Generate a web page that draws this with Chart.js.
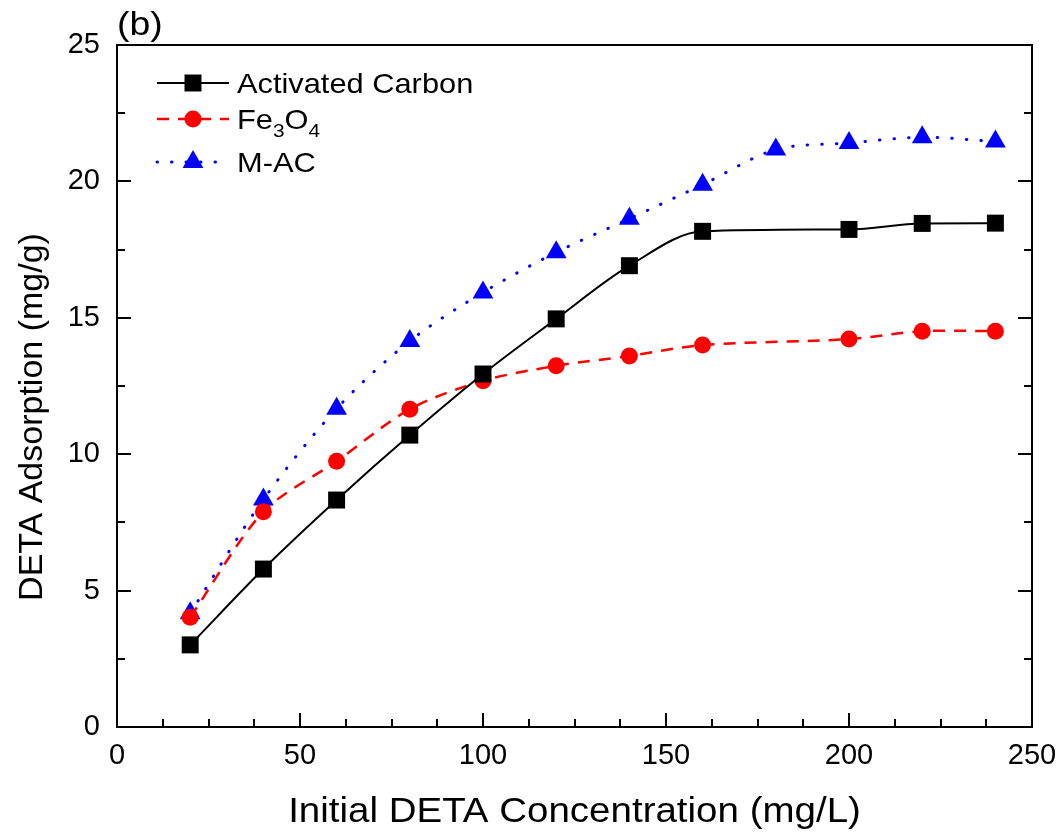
<!DOCTYPE html>
<html>
<head>
<meta charset="utf-8">
<title>DETA adsorption</title>
<script src="https://cdn.jsdelivr.net/npm/chart.js@4.4.1/dist/chart.umd.min.js"></script>
<style>
  html, body { margin: 0; padding: 0; background: #fff; }
  canvas { display: block; }
</style>
</head>
<body>
<canvas id="chart" width="1061" height="835"></canvas>
<script>
// Initial DETA concentration (mg/L) and adsorbed amount (mg/g)
const concAC = [20, 40, 60, 80, 100, 120, 140, 160, 200, 220, 240];
const adsAC = [3.01, 5.79, 8.32, 10.70, 12.94, 14.96, 16.91, 18.17, 18.24, 18.46, 18.47];

const concFe = [20, 40, 60, 80, 100, 120, 140, 160, 200, 220, 240];
const adsFe = [4.02, 7.89, 9.74, 11.65, 12.69, 13.24, 13.60, 14.00, 14.22, 14.51, 14.51];

const concMAC = [20, 40, 60, 80, 100, 120, 140, 160, 180, 200, 220, 240];
const adsMAC = [4.17, 8.34, 11.67, 14.15, 15.93, 17.40, 18.63, 19.88, 21.17, 21.41, 21.62, 21.46];

const xTicks = [0, 50, 100, 150, 200, 250];
const yTicks = [0, 5, 10, 15, 20, 25];

// legend text, pieces flagged 1 are subscripts
const legendLabels = [
    [['Activated Carbon', 0]],
    [['Fe', 0], ['3', 1], ['O', 0], ['4', 1]],
    [['M-AC', 0]]
];

const FONT = "'Liberation Sans', Arial, sans-serif";
const STRETCH = 1.1;   // horizontal text is drawn a little wide

function points(xs, ys) {
    return xs.map((x, i) => ({ x: x, y: ys[i] }));
}

// fillText with a horizontal stretch, anchored at (x, y)
function wideText(ctx, text, x, y, align) {
    ctx.save();
    ctx.translate(x, y);
    ctx.scale(STRETCH, 1);
    ctx.textAlign = align || 'left';
    ctx.fillText(text, 0, 0);
    ctx.restore();
    return ctx.measureText(text).width * STRETCH;
}

// frame, inward ticks, axis titles, panel letter and legend
const decorations = {
    id: 'decorations',
    afterDraw(chart) {
        const { ctx, chartArea: a, scales: { x, y } } = chart;
        ctx.save();
        ctx.strokeStyle = '#000';
        ctx.lineWidth = 2;
        ctx.strokeRect(a.left, a.top, a.right - a.left, a.bottom - a.top);

        ctx.beginPath();
        for (let v = 0; v <= 250; v += 12.5) {
            const px = Math.round(x.getPixelForValue(v));
            const len = v % 50 === 0 ? 14 : 8;
            ctx.moveTo(px, a.bottom);
            ctx.lineTo(px, a.bottom - len);
        }
        for (let v = 0; v <= 25; v += 2.5) {
            const py = Math.round(y.getPixelForValue(v));
            const len = v % 5 === 0 ? 14 : 8;
            ctx.moveTo(a.left, py);
            ctx.lineTo(a.left + len, py);
            ctx.moveTo(a.right, py);
            ctx.lineTo(a.right - len, py);
        }
        ctx.stroke();

        ctx.fillStyle = '#000';
        ctx.textBaseline = 'alphabetic';

        // axis titles
        ctx.font = '35px ' + FONT;
        wideText(ctx, 'Initial DETA Concentration (mg/L)', (a.left + a.right) / 2, 822, 'center');
        ctx.save();
        ctx.font = '34px ' + FONT;
        ctx.translate(42, 417);
        ctx.rotate(-Math.PI / 2);
        ctx.textAlign = 'center';
        ctx.fillText('DETA Adsorption (mg/g)', 0, 0);
        ctx.restore();

        // panel letter
        ctx.font = '34px ' + FONT;
        wideText(ctx, '(b)', 117, 35);

        // legend
        const rows = [83, 119, 162];
        chart.data.datasets.forEach((ds, i) => {
            const cy = rows[i];
            ctx.save();
            ctx.strokeStyle = ds.borderColor;
            ctx.lineWidth = ds.borderWidth;
            ctx.lineCap = ds.borderCapStyle || 'butt';
            ctx.setLineDash(ds.borderDash || []);
            ctx.beginPath();
            ctx.moveTo(157, cy);
            ctx.lineTo(229, cy);
            ctx.stroke();
            ctx.restore();

            ctx.save();
            ctx.fillStyle = ds.pointBackgroundColor;
            ctx.strokeStyle = ds.pointBorderColor;
            ctx.lineWidth = ds.pointBorderWidth;
            Chart.helpers.drawPoint(ctx, {
                pointStyle: ds.pointStyle,
                radius: ds.pointRadius,
                rotation: 0,
                borderWidth: ds.pointBorderWidth
            }, 193, cy);
            ctx.restore();

            let tx = 237;
            const base = cy + 10;
            legendLabels[i].forEach(([text, sub]) => {
                ctx.font = (sub ? '19px ' : '28px ') + FONT;
                tx += wideText(ctx, text, tx, sub ? base + 8 : base);
            });
        });
        ctx.restore();
    }
};

const tickFont = { family: FONT, size: 29 };

new Chart(document.getElementById('chart'), {
    type: 'line',
    data: {
        datasets: [
            {
                label: 'Activated Carbon',
                data: points(concAC, adsAC),
                borderColor: '#000',
                borderWidth: 2,
                pointStyle: 'rect',
                pointRadius: 12,
                pointBackgroundColor: '#000',
                pointBorderColor: '#000',
                pointBorderWidth: 0,
                cubicInterpolationMode: 'monotone'
            },
            {
                label: 'Fe3O4',
                data: points(concFe, adsFe),
                borderColor: '#ff0000',
                borderWidth: 2.5,
                borderDash: [12, 9],
                pointStyle: 'circle',
                pointRadius: 8.5,
                pointBackgroundColor: '#ff0000',
                pointBorderColor: '#ff0000',
                pointBorderWidth: 0,
                tension: 0.3
            },
            {
                label: 'M-AC',
                data: points(concMAC, adsMAC),
                borderColor: '#0000ff',
                borderWidth: 3,
                borderDash: [0.5, 14],
                borderCapStyle: 'round',
                pointStyle: 'triangle',
                pointRadius: 12,
                pointBackgroundColor: '#0000ff',
                pointBorderColor: '#0000ff',
                pointBorderWidth: 0,
                tension: 0.3
            }
        ]
    },
    options: {
        responsive: false,
        animation: false,
        events: [],
        layout: { padding: { left: 0, top: 45, right: 29, bottom: 0 } },
        plugins: {
            legend: { display: false },
            tooltip: { enabled: false }
        },
        scales: {
            x: {
                type: 'linear',
                min: 0,
                max: 250,
                afterFit: (scale) => {
                    scale.height = 108;
                    scale.paddingLeft = 0;
                    scale.paddingRight = 0;
                },
                afterBuildTicks: (scale) => { scale.ticks = xTicks.map(v => ({ value: v })); },
                grid: { display: false, drawTicks: false },
                border: { display: false },
                ticks: { color: '#000', font: tickFont, padding: 12, maxRotation: 0 }
            },
            y: {
                min: 0,
                max: 25,
                afterFit: (scale) => {
                    scale.width = 117;
                    scale.paddingTop = 0;
                    scale.paddingBottom = 0;
                },
                afterBuildTicks: (scale) => { scale.ticks = yTicks.map(v => ({ value: v })); },
                grid: { display: false, drawTicks: false },
                border: { display: false },
                ticks: { color: '#000', font: tickFont, padding: 17 }
            }
        }
    },
    plugins: [decorations]
});
</script>
</body>
</html>
